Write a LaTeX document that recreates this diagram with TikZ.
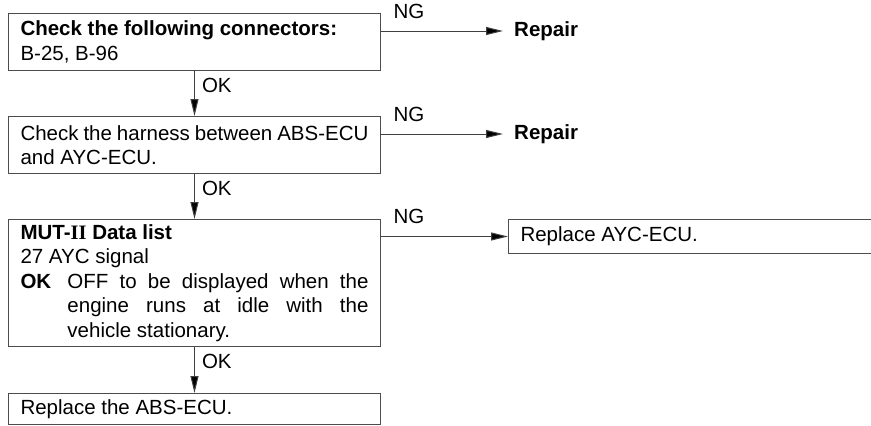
\documentclass[tikz,border=0pt]{standalone}
\usepackage{fontspec}
\setmainfont{Liberation Sans}
\newfontfamily\romnum{Liberation Serif}
\usetikzlibrary{arrows.meta,positioning}
\setlength{\parindent}{0pt}

\begin{document}
\begin{tikzpicture}[
    x=1pt, y=1pt,
    node distance=45pt,
    font=\fontsize{20.5pt}{24.5pt}\selectfont,
    box/.style={rectangle, draw=black!70, line width=1pt, text width=348pt, inner xsep=12pt, inner ysep=4pt, align=justify},
    repair/.style={inner xsep=11pt, font=\fontsize{20.5pt}{24.5pt}\selectfont\bfseries},
    arrow/.style={-{Triangle[length=17pt,width=8pt,fill=black]}, draw=black!75, line width=1pt},
    ngl/.style={anchor=south west, inner xsep=12pt, inner ysep=12pt},
    okl/.style={anchor=north west, inner sep=7pt}
]
    \useasboundingbox (0,0) rectangle (871,-426);

    % Check steps
    \node[box, minimum height=57pt, anchor=north west] (conn) at (8,-13) {\textbf{Check the following connectors:}\\B-25, B-96};
    \node[box, minimum height=57pt, below=of conn] (harn) {Check the harness between ABS-ECU\linebreak and AYC-ECU.};
    \node[box, minimum height=127pt, below=of harn] (mut) {\textbf{MUT-{\romnum II} Data list}\\27 AYC signal\\\makebox[47pt][l]{\textbf{OK}}\parbox[t]{301pt}{OFF to be displayed when the\linebreak engine runs at idle with the\linebreak vehicle stationary.}};
    \node[box, minimum height=31pt, below=46pt of mut] (abs) {Replace the ABS-ECU.};

    % NG results
    \node[repair, anchor=west] (rep1) at ([xshift=122pt, yshift=-18pt]conn.north east) {Repair};
    \node[repair, anchor=west] (rep2) at ([xshift=122pt, yshift=-18pt]harn.north east) {Repair};
    \node[box, text width=339pt, minimum height=34pt, anchor=north west] (ayc) at ([xshift=127pt]mut.north east) {Replace AYC-ECU.};

    % Arrows
    \draw[arrow] (conn) -- (harn) node[pos=0, okl] {OK};
    \draw[arrow] (harn) -- (mut) node[pos=0, okl] {OK};
    \draw[arrow] (mut) -- (abs) node[pos=0, okl] {OK};
    \draw[arrow] (conn.east |- rep1.west) -- (rep1.west) node[pos=0, ngl] {NG};
    \draw[arrow] (harn.east |- rep2.west) -- (rep2.west) node[pos=0, ngl] {NG};
    \draw[arrow] (mut.east |- ayc.west) -- (ayc.west) node[pos=0, ngl] {NG};

\end{tikzpicture}
\end{document}
